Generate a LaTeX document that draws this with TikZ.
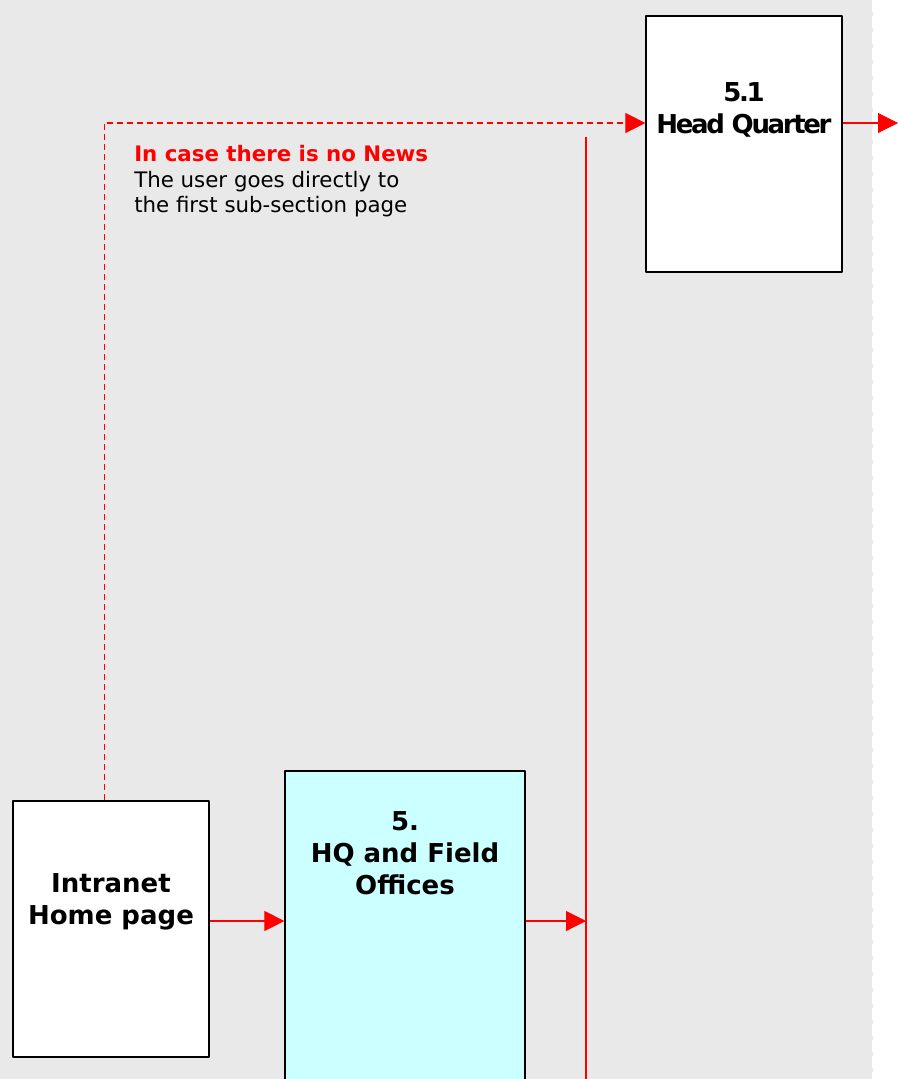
\documentclass[tikz,border=0pt]{standalone}
\usepackage{fontspec}
\setmainfont{DejaVu Sans}
\newfontfamily\tightfont[LetterSpace=-9]{DejaVu Sans}
\usetikzlibrary{arrows.meta,positioning}
\definecolor{bg}{HTML}{E9E9E9}
\definecolor{pale}{HTML}{CCFFFF}
\begin{document}
\begin{tikzpicture}[x=0.75pt,y=-0.75pt,line join=round,
		page/.style={draw=black,line width=0.9pt,fill=white,inner sep=0pt,minimum width=147pt,minimum height=192pt},
		title/.style={font=\bfseries\fontsize{19.5pt}{24pt}\selectfont,align=center,inner sep=0pt},
		flow/.style={red,line width=0.8pt,-{Triangle[length=15pt,width=15pt]}}]
	\useasboundingbox (0,0) rectangle (898,1079);
	\clip (0,0) rectangle (898,1079);
	\fill[bg] (0,0) rectangle (873,1079);
	\draw[white,line width=0.8pt,dash pattern=on 9pt off 3pt] (872.5,0)--(872.5,1079);
	\node[page] (home) at (111,929) {};
	\node[page,fill=pale,minimum width=180pt,minimum height=240pt] (hqfo) at (405,931) {};
	\node[page] (hq) at (744,144) {};
	\node[title] at ([yshift=-76pt]home.north) {Intranet\\Home page};
	\node[title] at ([yshift=-62pt]hqfo.north) {5.\\HQ and Field\\Offices};
	\node[title,font=\bfseries\tightfont\fontsize{19.5pt}{24pt}\selectfont] at ([yshift=-71pt]hq.north) {5.1\\Head Quarter};
	\node[anchor=north west,inner sep=0pt,align=left,font=\fontsize{16pt}{19.2pt}\selectfont] (note) at (134,145)
		{\textcolor{red}{\bfseries In case there is no News}\\The user goes directly to\\the first sub-section page};
	\coordinate (low) at (0,921);
	\coordinate (high) at (0,123);
	\coordinate (bustop) at (586,137);
	\coordinate (busend) at (586,1079);
	\coordinate (exit) at (898,123);
	\draw[red,line width=0.8pt] (bustop)--(busend);
	\draw[flow] (home.east |- low)--(hqfo.west |- low);
	\draw[flow] (hqfo.east |- low)--(bustop |- low);
	\draw[flow,dash pattern=on 4.5pt off 3pt] ([xshift=-5pt]home.north) |- (hq.west |- high);
	\draw[flow] (hq.east |- high)--(exit);
\end{tikzpicture}
\end{document}
